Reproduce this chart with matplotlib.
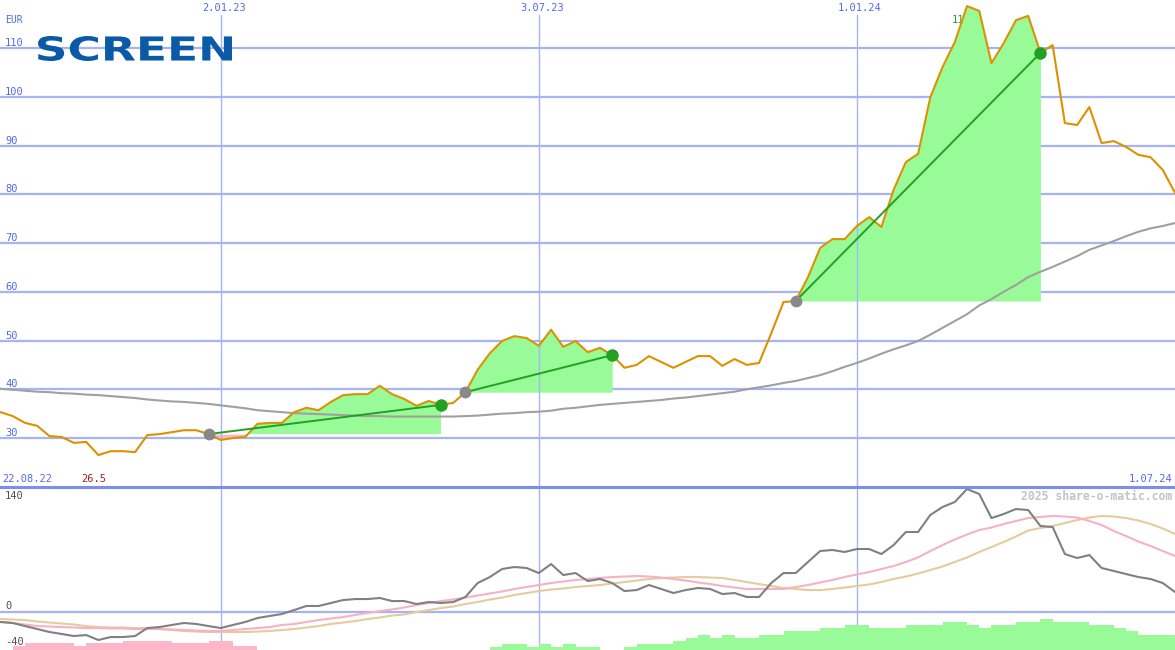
import numpy as np
import pandas as pd
import matplotlib
matplotlib.use("Agg")
import matplotlib.pyplot as plt
import matplotlib.dates as mdates
from matplotlib.lines import Line2D
from matplotlib.patches import PathPatch
from matplotlib.textpath import TextPath
from matplotlib.font_manager import FontProperties
from matplotlib.transforms import Affine2D, IdentityTransform

# weekly closes, 22.08.22 .. 1.07.24 (EUR)
dates = pd.date_range("2022-08-22", periods=98, freq="7D")

price = [36.2, 35.3, 34.5, 33.1, 32.5, 30.4, 30.2, 29.0, 29.2, 26.5,
         27.3, 27.3, 27.1, 30.6, 30.8, 31.2, 31.6, 31.6, 30.8, 29.6,
         30.0, 30.2, 32.9, 33.1, 33.1, 35.3, 36.2, 35.7, 37.4, 38.8,
         39.0, 39.0, 40.7, 39.0, 38.0, 36.6, 37.6, 36.8, 37.2, 39.4,
         44.0, 47.4, 49.9, 50.9, 50.5, 48.9, 52.2, 48.7, 49.9, 47.6,
         48.5, 47.0, 44.4, 45.0, 46.8, 45.6, 44.4, 45.6, 46.8, 46.8,
         44.8, 46.2, 45.0, 45.4, 51.5, 57.9, 58.1, 63.0, 69.0, 70.8,
         70.8, 73.5, 75.3, 73.3, 80.9, 86.6, 88.3, 99.9, 106.1, 111.2,
         118.6, 117.6, 106.9, 111.0, 115.7, 116.6, 109.0, 110.6, 94.6, 94.2,
         97.9, 90.5, 90.9, 89.7, 88.1, 87.6, 85.0, 80.3]

ma200 = [40.2, 40.1, 39.9, 39.7, 39.5, 39.4, 39.2, 39.1, 38.9, 38.8,
         38.6, 38.4, 38.2, 37.9, 37.7, 37.5, 37.4, 37.2, 37.0, 36.7,
         36.4, 36.1, 35.7, 35.5, 35.3, 35.1, 35.0, 34.9, 34.8, 34.7,
         34.6, 34.5, 34.5, 34.4, 34.4, 34.4, 34.4, 34.4, 34.4, 34.5,
         34.6, 34.8, 35.0, 35.1, 35.3, 35.4, 35.6, 36.0, 36.2, 36.5,
         36.8, 37.0, 37.2, 37.4, 37.6, 37.8, 38.1, 38.3, 38.6, 38.9,
         39.2, 39.5, 40.0, 40.4, 40.8, 41.3, 41.7, 42.3, 42.9, 43.7,
         44.6, 45.4, 46.3, 47.3, 48.2, 49.0, 49.9, 51.2, 52.6, 54.0,
         55.4, 57.2, 58.5, 60.0, 61.4, 63.0, 64.1, 65.1, 66.2, 67.3,
         68.6, 69.5, 70.4, 71.4, 72.3, 73.0, 73.5, 74.1]

# lower panel
momentum = [-10.0, -11.1, -12.2, -15.6, -18.9, -22.2, -24.4, -26.7, -25.6, -31.1,
            -27.8, -27.8, -26.7, -17.8, -16.7, -14.4, -12.2, -13.3, -15.6, -17.8,
            -14.4, -11.1, -6.7, -4.4, -2.2, 2.2, 6.7, 6.7, 10.0, 13.3,
            14.4, 14.4, 15.6, 12.2, 12.2, 8.9, 11.1, 10.0, 11.1, 16.7,
            32.2, 38.9, 47.8, 50.0, 48.9, 43.3, 53.3, 41.1, 43.3, 34.4,
            36.7, 32.2, 23.3, 24.4, 30.0, 25.6, 21.1, 24.4, 26.7, 25.6,
            20.0, 21.1, 16.7, 16.7, 32.2, 43.3, 43.3, 55.6, 67.8, 68.9,
            66.7, 70.0, 70.0, 64.4, 74.4, 88.9, 88.9, 107.8, 116.7, 122.2,
            136.7, 131.1, 104.4, 108.9, 114.4, 113.3, 95.6, 94.4, 64.4, 60.0,
            63.3, 48.9, 45.6, 42.2, 38.9, 36.7, 32.2, 22.2]

signal_fast = [-10.0, -11.1, -12.2, -13.9, -15.6, -16.1, -16.7, -17.2, -17.8, -17.8,
               -18.3, -18.3, -18.9, -18.9, -18.9, -19.4, -20.0, -20.6, -21.1, -21.1,
               -20.0, -18.9, -17.8, -16.7, -14.4, -13.3, -11.1, -8.9, -7.2, -5.6,
               -3.3, -1.1, 1.1, 2.8, 5.0, 7.8, 10.0, 12.2, 13.9, 16.1,
               18.3, 20.6, 22.8, 25.6, 27.8, 30.0, 32.2, 33.9, 35.6, 36.7,
               37.8, 38.9, 39.4, 40.0, 39.4, 38.3, 36.7, 35.0, 32.8, 31.1,
               28.9, 27.2, 25.6, 25.6, 25.6, 25.6, 27.8, 30.0, 32.8, 35.6,
               38.9, 41.7, 44.4, 47.8, 51.1, 55.6, 60.6, 67.8, 74.4, 80.6,
               86.1, 91.1, 93.9, 97.8, 101.1, 104.4, 105.6, 106.7, 106.1, 105.0,
               101.1, 96.7, 90.0, 84.4, 78.3, 73.3, 67.8, 62.2]

signal_slow = [-7.2, -7.8, -8.3, -8.9, -10.6, -11.7, -12.8, -13.9, -15.6, -16.7,
               -17.2, -17.2, -17.8, -17.8, -18.9, -20.0, -21.1, -21.7, -22.2, -22.2,
               -22.2, -22.2, -21.7, -21.1, -20.0, -18.9, -17.2, -15.6, -13.3, -11.7,
               -10.0, -7.8, -6.1, -3.9, -2.8, 0.0, 2.2, 4.4, 6.1, 8.9,
               11.1, 13.9, 16.1, 18.9, 21.1, 23.3, 25.0, 26.1, 27.8, 28.9,
               30.0, 31.7, 33.3, 35.0, 36.7, 37.8, 38.3, 38.9, 38.9, 38.3,
               37.8, 35.6, 33.3, 31.1, 28.9, 26.7, 25.6, 24.4, 24.4, 25.6,
               27.2, 28.9, 30.6, 33.3, 36.7, 39.4, 42.8, 46.7, 50.6, 55.6,
               60.6, 66.7, 72.2, 77.8, 83.9, 90.6, 93.3, 95.6, 98.9, 102.2,
               105.0, 106.7, 106.1, 104.4, 101.7, 97.8, 92.8, 86.7]

# weekly strength bars (one per week interval, negative = pink)
strength = [0, 0, -4.8, -7.4, -7.4, -7.4, -7.4, -4.8, -7.4, -7.4,
            -7.4, -10, -10, -10, -10, -7.4, -7.4, -7.4, -10, -10,
            -4.8, -4.8, 0, 0, 0, 0, 0, 0, 0, 0,
            0, 0, 0, 0, 0, 0, 0, 0, 0, 0,
            0, 3.7, 6.7, 6.7, 3.7, 6.7, 3.7, 6.7, 3.7, 3.7,
            0, 0, 3.7, 6.7, 6.7, 6.7, 10, 13.7, 16.7, 13.7,
            16.7, 13.7, 13.7, 16.7, 16.7, 21.1, 21.1, 21.1, 24.8, 24.8,
            27.8, 27.8, 24.8, 24.8, 24.8, 27.8, 27.8, 27.8, 31.1, 31.1,
            27.8, 24.8, 27.8, 27.8, 31.1, 31.1, 34.4, 31.1, 31.1, 31.1,
            27.8, 27.8, 24.8, 21.1, 16.7, 16.7, 16.7]

trend_start = ["2022-12-26", "2023-05-22", "2023-11-27"]
trend_end = ["2023-05-08", "2023-08-14", "2024-04-15"]
tick_dates = ["2023-01-02", "2023-07-03", "2024-01-01"]
tick_labels = ["2.01.23", "3.07.23", "1.01.24"]
price_levels = [30, 40, 50, 60, 70, 80, 90, 100, 110]

GRID = "#a4b4f4"
BLUE_TXT = "#5468f0"
GREEN_FILL = "#98fb98"
PINK_FILL = "#ffb6c8"
MONO = "DejaVu Sans Mono"

price = np.array(price)
x = mdates.date2num(dates.to_pydatetime())
xlo = x[0] + 6.7
xhi = x[-1]

fig = plt.figure(figsize=(11.75, 6.5), dpi=100)
fig.patch.set_facecolor("white")
ax = fig.add_axes([0, 163 / 650, 1, 487 / 650])
ax2 = fig.add_axes([0, 0, 1, 163 / 650])
for a in (ax, ax2):
    a.set_axis_off()
    a.set_xlim(xlo, xhi)
ax.set_ylim(19.95, 119.85)
ax2.set_ylim(-42.2, 138.9)

# --- main panel ---
for v in price_levels:
    ax.axhline(v, color=GRID, lw=1.6, zorder=0)
    ax.annotate(str(v), (0, v), xycoords=("axes fraction", "data"), xytext=(5, 2),
                textcoords="offset pixels", ha="left", va="baseline",
                color=BLUE_TXT, fontsize=7.5, family=MONO)

for d, lab in zip(tick_dates, tick_labels):
    xd = mdates.date2num(pd.Timestamp(d).to_pydatetime())
    ax.axvline(xd, ymax=(487 - 15) / 487, color=GRID, lw=1.0, zorder=2)
    ax2.axvline(xd, color=GRID, lw=1.0, zorder=0)
    ax.annotate(lab, (xd, 1), xycoords=("data", "axes fraction"),
                xytext=(3, -8), textcoords="offset pixels", ha="center", va="center",
                color=BLUE_TXT, fontsize=7.5, family=MONO)

# trend segments with filled areas
for s, e in zip(trend_start, trend_end):
    i0 = dates.get_loc(pd.Timestamp(s))
    i1 = dates.get_loc(pd.Timestamp(e))
    xs = x[i0:i1 + 1]
    ys = price[i0:i1 + 1]
    base = ys[0]
    ax.fill_between(xs, ys, base, where=ys >= base, interpolate=True,
                    color=GREEN_FILL, lw=0, zorder=1)
    ax.fill_between(xs, ys, base, where=ys <= base, interpolate=True,
                    color=PINK_FILL, lw=0, zorder=1)
    ax.plot([xs[0], xs[-1]], [base, ys[-1]], color="#22a022", lw=1.4, zorder=5)
    ax.plot([xs[0]], [base], "o", color="#888888", ms=8.5, mec="none", zorder=6)
    ax.plot([xs[-1]], [ys[-1]], "o", color="#22a022", ms=9, mec="none", zorder=6)

ax.plot(x, ma200, color="#a0a0a0", lw=1.5, zorder=3)
ax.plot(x, price, color="#dc9200", lw=1.5, zorder=4)

imax = int(np.argmax(price))
imin = int(np.argmin(price))
ax.annotate("11", (x[imax], price[imax]), xytext=(-9, -14), textcoords="offset pixels",
            ha="center", va="center", color="#22a022", fontsize=7.5, family=MONO)
ax.annotate(f"{price[imin]:.1f}", (x[imin], 0), xycoords=("data", "axes fraction"),
            xytext=(-5, 8), textcoords="offset pixels", ha="center", va="center",
            color="#a02020", fontsize=7.5, family=MONO)

ax.annotate("EUR", (5, 467), xycoords="axes pixels", ha="left", va="center",
            color=BLUE_TXT, fontsize=7, family=MONO)
ax.annotate(dates[0].strftime("%d.%m.%y"), (2, 8), xycoords="axes pixels", ha="left",
            va="center", color=BLUE_TXT, fontsize=7.5, family=MONO)
ax.annotate("1.07.24", (1172, 8), xycoords="axes pixels", ha="right",
            va="center", color=BLUE_TXT, fontsize=7.5, family=MONO)

# --- lower panel ---
ax2.axhline(0, color=GRID, lw=1.6, zorder=0)
heights = np.abs(strength)
colors = [GREEN_FILL if v > 0 else PINK_FILL for v in strength]
ax2.bar(x[:-1], heights, width=7.0, align="edge", bottom=-42.2, color=colors,
        linewidth=0, zorder=1)
ax2.plot(x, signal_slow, color="#e4cc9c", lw=1.5, zorder=2)
ax2.plot(x, signal_fast, color="#f8b0c4", lw=1.5, zorder=3)
ax2.plot(x, momentum, color="#808080", lw=1.5, zorder=4)

for v, dy in [(140, -10), (0, 6), (-40, 6)]:
    ax2.annotate(str(v), (0, v), xycoords=("axes fraction", "data"), xytext=(5, dy),
                 textcoords="offset pixels", ha="left", va="center",
                 color="#505050", fontsize=7.5, family=MONO)

ax2.annotate("2025 share-o-matic.com", (1172, 154), xycoords="axes pixels",
             ha="right", va="center", color="#c4c4c4", fontsize=8.3,
             family=MONO, weight="bold")

fig.add_artist(Line2D([0, 1], [163 / 650, 163 / 650], transform=fig.transFigure,
                      color="#7c8cf0", lw=2.2))

# logo
tp = TextPath((0, 0), "SCREEN", size=100, prop=FontProperties(family="DejaVu Sans", weight="bold"))
ext = tp.get_extents()
logo_tr = (Affine2D().translate(-ext.x0, -ext.y0)
           .scale(194 / ext.width, 25 / ext.height).translate(38, 650 - 61))
fig.add_artist(PathPatch(logo_tr.transform_path(tp), transform=IdentityTransform(),
                         fc="#0a5aa8", ec="none", zorder=10))

fig.savefig("out.png", dpi=100)
plt.close(fig)
